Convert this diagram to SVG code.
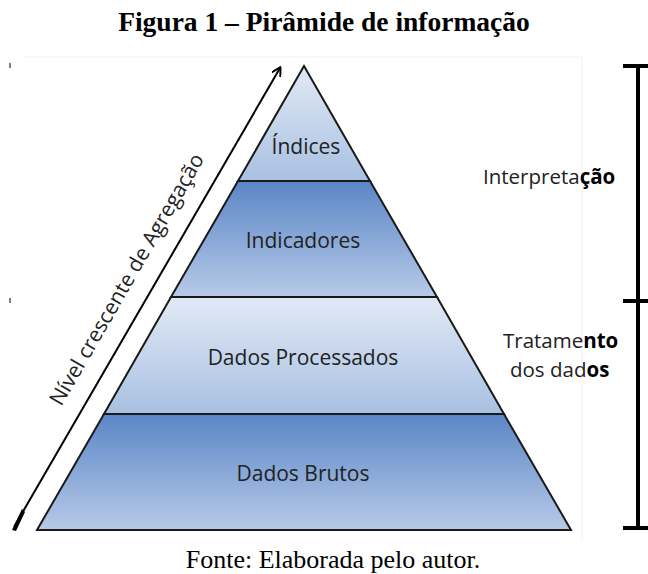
<svg xmlns="http://www.w3.org/2000/svg" width="648" height="574" viewBox="0 0 648 574">
<style>
.t{font-family:"Open Sans","Liberation Sans",sans-serif;font-size:21px;fill:#222;}
.r{font-size:20.5px;}
.b{font-weight:bold;fill:#000;}
.band{stroke:#1a1a1a;stroke-width:2;}
.ser{font-family:"Liberation Serif",serif;fill:#000;}
</style>
<defs>
<linearGradient id="gl" x1="0" y1="0" x2="0" y2="1"><stop offset="0" stop-color="#e1e9f5"/><stop offset="1" stop-color="#a9c0e2"/></linearGradient>
<linearGradient id="gd" x1="0" y1="0" x2="0" y2="1"><stop offset="0" stop-color="#5a86c6"/><stop offset="1" stop-color="#b7cae8"/></linearGradient>
<marker id="ah" markerWidth="10" markerHeight="10" refX="8" refY="5" orient="auto" markerUnits="userSpaceOnUse"><path d="M0,0 L9,5 L0,10" fill="none" stroke="#000" stroke-width="2"/></marker>
</defs>
<rect width="648" height="574" fill="#fff"/>
<text class="ser" x="324" y="31" font-size="27.5" font-weight="bold" text-anchor="middle">Figura 1 – Pirâmide de informação</text>
<g id="frame" stroke="#f0f0f0" fill="none"><path d="M24,57 H582 V540"/></g>
<g id="level-indices"><polygon class="band" points="304,66 370,181 238,181" fill="url(#gl)"/><text class="t" x="306" y="154" text-anchor="middle">Índices</text></g>
<g id="level-indicadores"><polygon class="band" points="238,181 370,181 437,297 171,297" fill="url(#gd)"/><text class="t" x="303" y="248" text-anchor="middle">Indicadores</text></g>
<g id="level-processados"><polygon class="band" points="171,297 437,297 504,414 104,414" fill="url(#gl)"/><text class="t" x="303" y="365" text-anchor="middle">Dados Processados</text></g>
<g id="level-brutos"><polygon class="band" points="104,414 504,414 571,530 37,530" fill="url(#gd)"/><text class="t" x="303" y="481" text-anchor="middle">Dados Brutos</text></g>
<g id="connectors">
<line x1="14" y1="527" x2="280" y2="68" stroke="#000" stroke-width="2" marker-end="url(#ah)"/>
<path d="M12,530 L22,509 L25,512 L16,531 Z" fill="#000"/>
<g stroke="#000" stroke-width="4" fill="none"><path d="M638,66 V528 M623,66 H648 M623,301 H648 M623,528 H648"/></g>
<g stroke="#000" stroke-width="1"><path d="M10,63 V68 M10,298 V303"/></g>
</g>
<g id="axis-label"><text class="t" x="0" y="0" font-size="21.5" transform="translate(133,283) rotate(-60)" text-anchor="middle">Nível crescente de Agregação</text></g>
<g id="label-interpretacao"><text class="t r" x="483" y="184">Interpreta<tspan class="b">ção</tspan></text></g>
<g id="label-tratamento"><text class="t r" x="503" y="348">Tratame<tspan class="b">nto</tspan></text><text class="t r" x="510" y="377">dos dad<tspan class="b">os</tspan></text></g>
<text class="ser" x="333" y="568" font-size="26" text-anchor="middle">Fonte: Elaborada pelo autor.</text>
</svg>
